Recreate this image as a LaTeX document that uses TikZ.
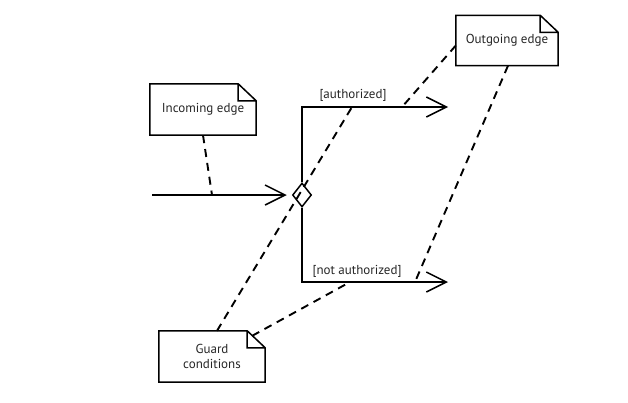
\documentclass[tikz,border=0pt]{standalone}
\usepackage{fontspec}
\setmainfont{PT Sans}
\usetikzlibrary{arrows.meta,shapes.geometric,calc}
\tikzset{
  x=1pt,y=-1pt,
  notebox/.style={rectangle,inner sep=0pt,align=center,text=black!85,font=\fontsize{13}{14.5}\selectfont},
  noteline/.style={draw,line width=1.5pt,line join=miter},
  flow/.style={line width=1.5pt,-{Straight Barb[length=20pt,width=20pt,line width=1.5pt]}},
  anchorline/.style={line width=1.9pt,dash pattern=on 8pt off 6pt},
  guard/.style={font=\fontsize{13}{14.5}\selectfont,text=black!85,inner sep=1pt}
}
\newcommand\drawnote[1]{%
  \draw[noteline] (#1.north west) -- ([xshift=-18pt]#1.north east) -- ([yshift=-17pt]#1.north east)
      -- (#1.south east) -- (#1.south west) -- cycle
      ([xshift=-18pt]#1.north east) |- ([yshift=-17pt]#1.north east);}
\begin{document}
\begin{tikzpicture}
\useasboundingbox (0,0) rectangle (628,402);
\node[notebox,minimum width=106pt,minimum height=51pt] (inc) at (203,109.5) {Incoming edge};
\node[notebox,minimum width=106pt,minimum height=51pt] (gc) at (212,356.5) {Guard\\conditions};
\node[notebox,minimum width=102pt,minimum height=50pt] (out) at (507,40.5) {Outgoing edge};
\drawnote{inc}
\drawnote{gc}
\drawnote{out}
\node[diamond,draw,line width=1.5pt,minimum width=19pt,minimum height=24pt,inner sep=0pt] (dia) at (302,195) {};
\coordinate (start) at (152,195);
\coordinate (t1) at (448,107);
\coordinate (t2) at (448,282);
\coordinate (p1) at (212,195);
\coordinate (p2) at (352,107);
\coordinate (p3) at (350,282);
\coordinate (p4) at (402,107);
\coordinate (p5) at (415,282);
\draw[flow,shorten >=5pt] (start) -- (dia.west);
\draw[flow] (dia.north) |- (t1);
\draw[flow] (dia.south) |- (t2);
\node[guard] (la) at (353,95) {[authorized]};
\node[guard] (lb) at (357,271) {[not authorized]};
\draw[anchorline] (inc.south) -- (p1);
\draw[anchorline] ([xshift=5pt]gc.north) -- (p2);
\draw[anchorline] ([xshift=-13pt,yshift=-5pt]gc.north east) -- (p3);
\draw[anchorline] ([yshift=-5pt]out.west) -- (p4);
\draw[anchorline] ([xshift=1pt]out.south) -- (p5);
\end{tikzpicture}
\end{document}
